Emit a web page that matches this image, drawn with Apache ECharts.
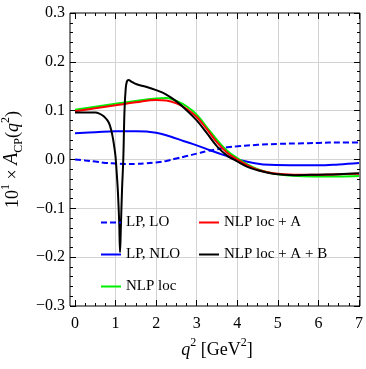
<!DOCTYPE html>
<html>
<head>
<meta charset="utf-8">
<script src="https://cdn.jsdelivr.net/npm/echarts@6/dist/echarts.min.js"></script>
<style>
html, body { margin: 0; padding: 0; background: #fff; }
#chart { width: 366px; height: 369px; }
</style>
</head>
<body>
<div id="chart"></div>
<script>
// values
var xTicks = [0, 1, 2, 3, 4, 5, 6, 7];
var yTicks = [-0.3, -0.2, -0.1, 0.0, 0.1, 0.2, 0.3];

var loX = [0, 0.25, 0.5, 0.75, 1, 1.25, 1.5, 1.75, 2, 2.25, 2.5, 2.75, 3, 3.25, 3.5, 3.75, 4, 4.5, 5, 5.5, 6, 6.5, 7];
var loY = [0, -0.002, -0.004, -0.007, -0.008, -0.009, -0.009, -0.008, -0.006, -0.003, 0.002, 0.007, 0.012, 0.017, 0.021, 0.025, 0.027, 0.030, 0.032, 0.033, 0.034, 0.035, 0.035];

var nloX = [0, 0.5, 1, 1.5, 2, 2.35, 2.67, 3, 3.33, 3.67, 4, 4.4, 4.8, 5.5, 6, 6.5, 7];
var nloY = [0.054, 0.056, 0.058, 0.058, 0.055, 0.047, 0.038, 0.029, 0.019, 0.009, 0.000, -0.007, -0.011, -0.012, -0.012, -0.010, -0.007];

var locX = [0, 0.5, 1, 1.5, 2, 2.25, 2.5, 2.75, 3, 3.25, 3.5, 3.75, 4, 4.25, 4.5, 4.75, 5, 5.5, 6, 6.5, 7];
var locY = [0.102, 0.108, 0.114, 0.120, 0.125, 0.126, 0.120, 0.109, 0.092, 0.066, 0.040, 0.018, 0.003, -0.010, -0.020, -0.026, -0.030, -0.034, -0.035, -0.035, -0.034];

var locAX = [0, 0.5, 1, 1.5, 2, 2.25, 2.5, 2.75, 3, 3.25, 3.5, 3.75, 4, 4.25, 4.5, 4.75, 5, 5.5, 6, 6.5, 7];
var locAY = [0.099, 0.105, 0.111, 0.117, 0.122, 0.121, 0.115, 0.104, 0.087, 0.062, 0.035, 0.014, 0.000, -0.012, -0.021, -0.026, -0.029, -0.031, -0.031, -0.030, -0.029];

var locABX = [0, 0.3, 0.5, 0.6, 0.7, 0.8, 0.86, 0.92, 0.97, 1.0, 1.03, 1.06, 1.09, 1.11, 1.13, 1.16, 1.19, 1.22, 1.25, 1.28, 1.32, 1.4, 1.52, 1.75, 2, 2.25, 2.5, 2.75, 3, 3.25, 3.5, 3.75, 4, 4.25, 4.5, 4.75, 5, 5.5, 6, 6.5, 7];
var locABY = [0.096, 0.096, 0.096, 0.094, 0.089, 0.080, 0.070, 0.050, 0.025, 0.005, -0.03, -0.07, -0.13, -0.19, -0.14, -0.06, 0.0, 0.10, 0.145, 0.160, 0.163, 0.159, 0.154, 0.149, 0.142, 0.133, 0.119, 0.101, 0.080, 0.054, 0.027, 0.008, -0.004, -0.015, -0.022, -0.027, -0.030, -0.032, -0.031, -0.030, -0.028];

var names = ['LP, LO', 'LP, NLO', 'NLP loc', 'NLP loc + A', 'NLP loc + A + B'];
var colors = ['#0000ff', '#0000ff', '#00ee00', '#ff0000', '#000000'];

function pairs(xs, ys) {
    var out = [];
    for (var i = 0; i < xs.length; i++) out.push([xs[i], ys[i]]);
    return out;
}

var serif = 'Liberation Serif';
var chart = echarts.init(document.getElementById('chart'));

function lineSeries(name, color, xs, ys, dashed) {
    return {
        name: name,
        type: 'line',
        xAxisIndex: 0,
        yAxisIndex: 0,
        data: pairs(xs, ys),
        symbol: 'none',
        smooth: 0.4,
        lineStyle: { color: color, width: 2, type: dashed ? [6, 3] : 'solid' },
        itemStyle: { color: color }
    };
}

var tickText = { fontFamily: serif, fontSize: 16, color: '#000' };
var rich = {
    n: { fontFamily: serif, fontSize: 18, color: '#000', lineHeight: 22, verticalAlign: 'bottom' },
    i: { fontFamily: serif, fontStyle: 'italic', fontSize: 18, color: '#000', lineHeight: 22, verticalAlign: 'bottom' },
    a: { fontFamily: serif, fontStyle: 'italic', fontSize: 20, color: '#000', lineHeight: 22, verticalAlign: 'bottom' },
    sup: { fontFamily: serif, fontSize: 12, color: '#000', lineHeight: 22, verticalAlign: 'top' },
    sub: { fontFamily: serif, fontSize: 12, color: '#000', lineHeight: 22, verticalAlign: 'bottom', padding: [0, 0, -3, 0] }
};

function legendAt(data, left) {
    return {
        data: data, orient: 'vertical', left: left, top: 210,
        itemWidth: 20, itemHeight: 14, itemGap: 17,
        itemStyle: { opacity: 0 },
        textStyle: { fontFamily: serif, fontSize: 15, color: '#000', lineHeight: 15 }
    };
}

var option = {
    animation: false,
    grid: [
        { left: 75, right: 7, top: 13, bottom: 63, show: false, outerBoundsMode: 'none', containLabel: false },
        { left: 70, right: 6, top: 13, bottom: 63, show: true, outerBoundsMode: 'none', containLabel: false,
          borderColor: '#000', borderWidth: 1, backgroundColor: 'transparent' }
    ],
    legend: [
        legendAt(names.slice(0, 3), 95),
        legendAt(names.slice(3), 193)
    ],
    xAxis: [
        {
            type: 'value', gridIndex: 0, position: 'bottom',
            min: xTicks[0], max: xTicks[xTicks.length - 1], interval: 1,
            axisLine: { show: false, onZero: false },
            axisTick: { inside: true, length: 6, lineStyle: { color: '#000' } },
            minorTick: { show: true, splitNumber: 4, length: 3, lineStyle: { color: '#000' } },
            axisLabel: { margin: 10, textStyle: tickText },
            splitLine: { show: true, showMinLine: false, showMaxLine: false, lineStyle: { color: '#d3d3d3', width: 1 } },
            name: '{i|q}{sup|2}{n| [GeV}{sup|2}{n|]}',
            nameLocation: 'middle', nameGap: 31,
            nameTextStyle: { rich: rich }
        },
        {
            type: 'value', gridIndex: 0, position: 'top',
            min: xTicks[0], max: xTicks[xTicks.length - 1], interval: 1,
            axisLine: { show: false, onZero: false },
            axisTick: { inside: true, length: 6, lineStyle: { color: '#000' } },
            minorTick: { show: true, splitNumber: 4, length: 3, lineStyle: { color: '#000' } },
            axisLabel: { show: false },
            splitLine: { show: false }
        },
        { type: 'value', gridIndex: 1, show: false, min: 0, max: 1 }
    ],
    yAxis: [
        {
            type: 'value', gridIndex: 0, position: 'left', offset: 5,
            min: yTicks[0], max: yTicks[yTicks.length - 1], interval: 0.1,
            axisLine: { show: false, onZero: false },
            axisTick: { inside: true, length: 6, lineStyle: { color: '#000' } },
            minorTick: { show: true, splitNumber: 5, length: 3, lineStyle: { color: '#000' } },
            axisLabel: {
                margin: 5, textStyle: tickText,
                formatter: function (v) {
                    if (Math.abs(v) < 1e-9) return '0.0';
                    return v.toFixed(1).replace('-', '\u2212');
                }
            },
            splitLine: { show: true, showMinLine: false, showMaxLine: false, lineStyle: { color: '#d3d3d3', width: 1 } },
            name: '{n|10}{sup|1}{n| \u00d7 }{a|A}{sub|CP}{n|(}{i|q}{sup|2}{n|)}',
            nameLocation: 'middle', nameRotate: 90, nameGap: 33,
            nameTextStyle: { rich: rich }
        },
        {
            type: 'value', gridIndex: 0, position: 'right', offset: 1,
            min: yTicks[0], max: yTicks[yTicks.length - 1], interval: 0.1,
            axisLine: { show: false, onZero: false },
            axisTick: { inside: true, length: 6, lineStyle: { color: '#000' } },
            minorTick: { show: true, splitNumber: 5, length: 3, lineStyle: { color: '#000' } },
            axisLabel: { show: false },
            splitLine: { show: false }
        },
        { type: 'value', gridIndex: 1, show: false, min: 0, max: 1 }
    ],
    series: [
        lineSeries(names[0], colors[0], loX, loY, true),
        lineSeries(names[1], colors[1], nloX, nloY, false),
        lineSeries(names[2], colors[2], locX, locY, false),
        lineSeries(names[3], colors[3], locAX, locAY, false),
        lineSeries(names[4], colors[4], locABX, locABY, false)
    ]
};

chart.setOption(option);
window.onresize = chart.resize;
</script>
</body>
</html>
